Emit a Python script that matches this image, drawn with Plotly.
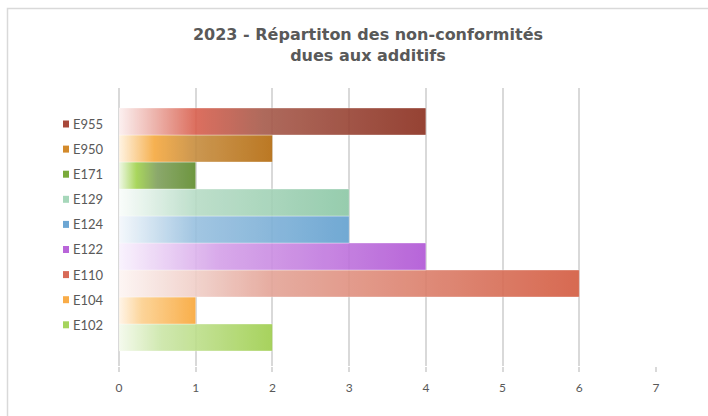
import plotly.graph_objects as go

# Additive codes (bottom to top) and number of non-conformities
categories = ["E102", "E104", "E110", "E122", "E124", "E129", "E171", "E950", "E955"]
values = [2, 1, 6, 4, 3, 3, 1, 2, 4]

x_ticks = [0, 1, 2, 3, 4, 5, 6, 7]

# Horizontal gradient fills, one per additive
gradients = {
    "E955": [[0, "#fcefef"], [0.25, "#d9604e"], [0.47, "#a65a4b"], [1, "#8a2e1e"]],
    "E950": [[0, "#fff3e0"], [0.23, "#f6a93f"], [0.5, "#c68c3e"], [1, "#b46a0c"]],
    "E171": [[0, "#eef8e4"], [0.23, "#a0d24c"], [0.5, "#7f9f5c"], [1, "#5e8b2b"]],
    "E129": [[0, "#fafdfb"], [0.33, "#b7dcc6"], [1, "#8bc7a5"]],
    "E124": [[0, "#f4f8fc"], [0.33, "#98c0df"], [1, "#62a0cf"]],
    "E122": [[0, "#f9f2fd"], [0.33, "#d4a0e8"], [1, "#b055d5"]],
    "E110": [[0, "#fdf5f3"], [0.17, "#f0cec7"], [0.33, "#e4a497"], [1, "#d35a3f"]],
    "E104": [[0, "#fff4e6"], [0.3, "#fcd08e"], [1, "#f9a637"]],
    "E102": [[0, "#f4faec"], [0.28, "#cbe6a7"], [1, "#9ece4c"]],
}
key_colors = {
    "E955": "#a8483a", "E950": "#d38a2b", "E171": "#7aaa3a",
    "E129": "#a6d7ba", "E124": "#6da6d3", "E122": "#b965d9",
    "E110": "#d86a57", "E104": "#f9ac48", "E102": "#a5d45c",
}

W, H = 708, 416
L, R, T, B = 119, 52, 88, 50
pw, ph = W - L - R, H - T - B
FONT = "Lato, DejaVu Sans, sans-serif"

fig = go.Figure()

# Each bar is a filled rectangle spanning [0, value] with a gradient fill
for i, (cat, val) in enumerate(zip(categories, values)):
    fig.add_trace(go.Scatter(
        x=[0, val, val, 0, 0],
        y=[i - 0.5, i - 0.5, i + 0.5, i + 0.5, i - 0.5],
        mode="lines",
        fill="toself",
        fillgradient=dict(type="horizontal", colorscale=gradients[cat]),
        line=dict(width=1, color="rgba(255,255,255,0.35)"),
        opacity=0.9,
        hoverinfo="skip",
        showlegend=False,
        name=cat,
    ))

# Legend keys on the left, listed top to bottom
annotations = []
shapes = []
for k, cat in enumerate(reversed(categories)):
    py = 124 + 25.1 * k
    yp = (H - B - py) / ph
    shapes.append(dict(
        type="rect", xref="paper", yref="paper",
        x0=(63 - L) / pw, x1=(69 - L) / pw,
        y0=yp - 3.5 / ph, y1=yp + 3.5 / ph,
        fillcolor=key_colors[cat], line=dict(width=0),
    ))
    annotations.append(dict(
        text=cat, xref="paper", yref="paper",
        x=(71 - L) / pw, y=yp, xanchor="left", yanchor="middle",
        showarrow=False,
        font=dict(family=FONT, size=13, color="#595959"),
    ))

# Chart border
shapes.append(dict(
    type="rect", xref="paper", yref="paper",
    x0=(7.5 - L) / pw, x1=(W + 20 - L) / pw,
    y0=-(B + 20) / ph, y1=(H - B - 8.5) / ph,
    line=dict(color="#d9d9d9", width=1.5), fillcolor="rgba(0,0,0,0)",
    layer="below",
))

# y range so that each category occupies 27 px
y_bottom = -(H - B - 337.5) / 27
y_top = (len(categories) - 1) + (121.5 - T) / 27

fig.update_layout(
    width=W, height=H,
    margin=dict(l=L, r=R, t=T, b=B),
    paper_bgcolor="white", plot_bgcolor="white",
    title=dict(
        text="<b>2023 - Répartiton des non-conformités<br>dues aux additifs</b>",
        x=(368 - L) / pw, xref="paper", xanchor="center",
        y=1 - 40 / H, yref="container", yanchor="top",
        font=dict(family="DejaVu Sans, sans-serif", size=16, color="#595959"),
    ),
    xaxis=dict(
        range=[0, 7], tickvals=x_ticks, ticktext=[str(t) for t in x_ticks],
        showgrid=True, gridcolor="#d9d9d9", gridwidth=1.5,
        zeroline=True, zerolinecolor="#d9d9d9", zerolinewidth=1.5,
        showline=False,
        ticks="outside", ticklen=5, tickcolor="#d9d9d9", tickwidth=1.5,
        ticklabelstandoff=6,
        tickfont=dict(family=FONT, size=12, color="#595959"),
        fixedrange=True,
    ),
    yaxis=dict(
        range=[y_bottom, y_top], showgrid=False, zeroline=False,
        showticklabels=False, ticks="", showline=False, fixedrange=True,
    ),
    shapes=shapes,
    annotations=annotations,
)

fig.write_html("out.html")
